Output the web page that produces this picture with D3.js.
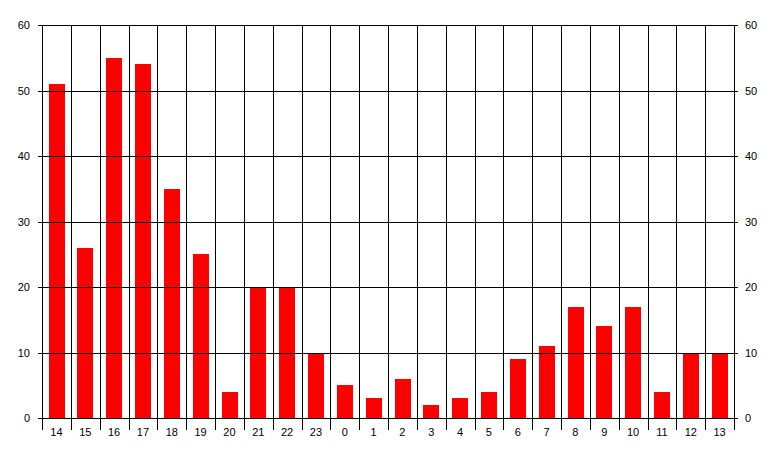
<!DOCTYPE html>
<html>
<head>
<meta charset="utf-8">
<script src="https://cdn.jsdelivr.net/npm/d3@7"></script>
<style>
  body { margin: 0; background: #fff; }
  svg { display: block; }
  text { font-family: "Liberation Sans", Arial, sans-serif; font-size: 11px; fill: #000; }
</style>
</head>
<body>
<div id="chart"></div>
<script>
const hours = ['14', '15', '16', '17', '18', '19', '20', '21', '22', '23', '0', '1',
  '2', '3', '4', '5', '6', '7', '8', '9', '10', '11', '12', '13'];
const counts = [51, 26, 55, 54, 35, 25, 4, 20, 20, 10, 5, 3, 6, 2, 3, 4, 9, 11, 17, 14, 17, 4, 10, 10];
const yTicks = [0, 10, 20, 30, 40, 50, 60];

const width = 777;
const height = 457;
const margin = { top: 25, right: 43, bottom: 39, left: 42 };

const svg = d3.select('#chart')
  .append('svg')
  .attr('width', width)
  .attr('height', height);

const xScale = d3.scaleBand()
  .domain(hours)
  .range([margin.left, width - margin.right])
  .paddingInner(0.46)
  .paddingOuter(0.23);

const bandX = d3.scaleBand()
  .domain(hours)
  .range([margin.left, width - margin.right]);

const yScale = d3.scaleLinear()
  .domain([0, 60])
  .range([height - margin.bottom, margin.top]);

const x0 = margin.left;
const x1 = width - margin.right;
const yBottom = height - margin.bottom;

// bars
svg.append('g')
  .selectAll('rect')
  .data(counts)
  .enter()
  .append('rect')
  .attr('x', (d, i) => Math.round(xScale(hours[i])))
  .attr('width', Math.round(xScale.bandwidth()))
  .attr('y', d => Math.round(yScale(d)))
  .attr('height', d => yBottom - Math.round(yScale(d)))
  .attr('fill', '#ff0000');

// horizontal gridlines
svg.append('g')
  .selectAll('line')
  .data(yTicks)
  .enter()
  .append('line')
  .attr('x1', x0 - 4)
  .attr('x2', x1 + 4)
  .attr('y1', d => Math.round(yScale(d)) + 0.5)
  .attr('y2', d => Math.round(yScale(d)) + 0.5)
  .attr('stroke', '#000')
  .attr('stroke-width', 1);

// vertical gridlines at category boundaries
const bounds = hours.map(h => bandX(h)).concat([x1]);
svg.append('g')
  .selectAll('line')
  .data(bounds)
  .enter()
  .append('line')
  .attr('x1', d => Math.round(d) + 0.5)
  .attr('x2', d => Math.round(d) + 0.5)
  .attr('y1', margin.top)
  .attr('y2', yBottom + 12)
  .attr('stroke', '#000')
  .attr('stroke-width', 1);

// left axis labels
svg.append('g')
  .selectAll('text')
  .data(yTicks)
  .enter()
  .append('text')
  .attr('x', 30)
  .attr('y', d => yScale(d) + 4)
  .attr('text-anchor', 'end')
  .text(d => d);

// right axis labels
svg.append('g')
  .selectAll('text')
  .data(yTicks)
  .enter()
  .append('text')
  .attr('x', x1 + 11)
  .attr('y', d => yScale(d) + 4)
  .attr('text-anchor', 'start')
  .text(d => d);

// category labels
svg.append('g')
  .selectAll('text')
  .data(hours)
  .enter()
  .append('text')
  .attr('x', d => bandX(d) + bandX.bandwidth() / 2)
  .attr('y', yBottom + 18)
  .attr('text-anchor', 'middle')
  .text(d => d);
</script>
</body>
</html>
